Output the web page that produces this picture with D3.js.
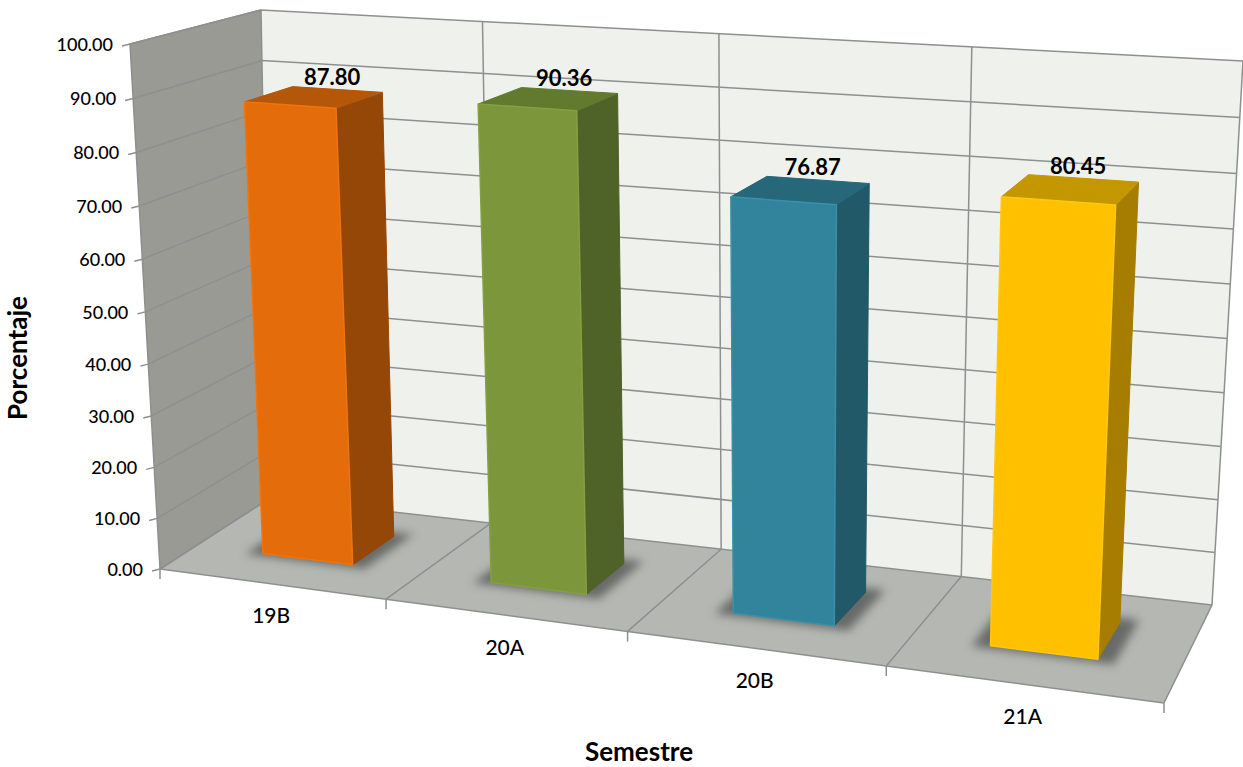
<!DOCTYPE html>
<html lang="en">
<head>
<meta charset="UTF-8">
<title>Porcentaje por semestre</title>
<script src="https://d3js.org/d3.v7.min.js"></script>
<style>
  body { margin: 0; background: #fff; }
  text { font-family: Lato, sans-serif; fill: #000; }
  .y-label { font-size: 18px; font-weight: 500; }
  .x-label { font-size: 21px; font-weight: 500; }
  .value-label { font-size: 22px; font-weight: 700; }
  .axis-title { font-size: 26px; font-weight: 700; }
  .grid { fill: none; stroke: #8f8f8f; stroke-width: 1.5px; }
</style>
</head>
<body>
<div id="chart"></div>
<script>
var semesters = ["19B", "20A", "20B", "21A"];
var values = [87.80, 90.36, 76.87, 80.45];
var yTicks = [0, 10, 20, 30, 40, 50, 60, 70, 80, 90, 100];
var frontColors = ["#e46c0a", "#7c963b", "#31849b", "#ffc000"];
var sideColors = ["#944706", "#4f6228", "#215968", "#a67d00"];
var topColors = ["#b55708", "#617a2e", "#266779", "#c49600"];
var edgeColors = ["#ee7410", "#84a041", "#3a90a8", "#ffc710"];

var width = 1243, height = 767;

// corners of the 3d box on screen: front left, front right, back right, back left
var floorQuad = [[160, 569], [1164, 703], [1212, 605], [270, 498]];
var ceilQuad = [[130, 44], [1192, 114], [1243, 61], [261, 10]];

// unit square -> quad
function homography(q) {
    var x0 = q[0][0], y0 = q[0][1], x1 = q[1][0], y1 = q[1][1],
        x2 = q[2][0], y2 = q[2][1], x3 = q[3][0], y3 = q[3][1];
    var dx1 = x1 - x2, dx2 = x3 - x2, sx = x0 - x1 + x2 - x3,
        dy1 = y1 - y2, dy2 = y3 - y2, sy = y0 - y1 + y2 - y3;
    var den = dx1 * dy2 - dx2 * dy1;
    var g = (sx * dy2 - dx2 * sy) / den, h = (dx1 * sy - sx * dy1) / den;
    var a = x1 - x0 + g * x1, b = x3 - x0 + h * x3,
        d = y1 - y0 + g * y1, e = y3 - y0 + h * y3;
    return function(u, v) {
        var w = g * u + h * v + 1;
        return [(a * u + b * v + x0) / w, (d * u + e * v + y0) / w];
    };
}

var floorAt = homography(floorQuad), ceilAt = homography(ceilQuad);

var x = d3.scaleBand().domain(semesters).range([0, 1]).paddingInner(0.6).paddingOuter(0.3);
var z = d3.scaleLinear().domain([0, 1]).range([0.32, 0.705]);
var y = d3.scaleLinear().domain([0, 100]).range([0, 1]);

// the reference foreshortens less across than its corners suggest
function warp(u, s) { return u * (1 + s) / (1 + s * u); }

// u across, val on the y axis, v into the depth
function project(u, val, v) {
    var t = y(val), k = 0.04;
    t = t * (1 - k) / (1 - k * t);
    var a = floorAt(warp(u, 0.08 + 0.04 * v), v), b = ceilAt(warp(u, 0.155), v);
    return [a[0] + (b[0] - a[0]) * t, a[1] + (b[1] - a[1]) * t];
}

var line = d3.line();
function poly(points) { return line(points) + "Z"; }

var svg = d3.select("#chart").append("svg")
    .attr("width", width).attr("height", height);

var blur = svg.append("defs").append("filter").attr("id", "blur")
    .attr("x", "-30%").attr("y", "-30%").attr("width", "160%").attr("height", "160%");
blur.append("feGaussianBlur").attr("stdDeviation", 5);

// walls and floor
svg.append("path").attr("fill", "#989a93")
    .attr("d", poly([project(0, 0, 0), project(0, 100, 0), project(0, 100, 1), project(0, 0, 1)]));
svg.append("path").attr("fill", "#eff2ec")
    .attr("d", poly([project(0, 0, 1), project(0, 100, 1), project(1, 100, 1), project(1, 0, 1)]));
svg.append("path").attr("fill", "#b5b8b2")
    .attr("d", poly([project(0, 0, 0), project(1, 0, 0), project(1, 0, 1), project(0, 0, 1)]));

// grid lines
yTicks.forEach(function(t) {
    var p = project(0, t, 0);
    svg.append("path").attr("class", "grid")
        .attr("d", line([[p[0] - 8, p[1] + 2], p, project(0, t, 1), project(1, t, 1)]));
});
d3.range(0, 5).forEach(function(i) {
    var u = i / 4;
    var foot = project(u, 0, 0);
    svg.append("path").attr("class", "grid")
        .attr("d", line([[foot[0], foot[1] + 10], foot, project(u, 0, 1), project(u, 100, 1)]));
});
svg.append("path").attr("class", "grid").attr("d", line(d3.range(0, 1.01, 0.25).map(function(u) { return project(u, 0, 0); })));
svg.append("path").attr("class", "grid").attr("d", line([project(0, 0, 0), project(0, 100, 0), project(0, 100, 1)]));

// y tick labels
svg.selectAll(".y-label").data(yTicks).enter().append("text")
    .attr("class", "y-label")
    .attr("text-anchor", "end")
    .attr("dominant-baseline", "central")
    .attr("x", function(d) { return project(0, d, 0)[0] - 17; })
    .attr("y", function(d) { return project(0, d, 0)[1]; })
    .text(function(d) { return d.toFixed(2); });

// bars
semesters.forEach(function(s, i) {
    var x0 = x(s), x1 = x(s) + x.bandwidth(), z0 = z(0), z1 = z(1), val = values[i];
    var grow = 0.016;

    svg.append("path").attr("fill", "#5f625e").attr("opacity", 0.9).attr("filter", "url(#blur)")
        .attr("d", poly([project(x0 - grow, 0, z0 - 0.03), project(x1 + grow, 0, z0 - 0.03),
            project(x1 + grow, 0, z1 + 0.05), project(x0 - grow, 0, z1 + 0.05)]));

    svg.append("path").attr("fill", sideColors[i])
        .attr("stroke", sideColors[i]).attr("stroke-linejoin", "round")
        .attr("d", poly([project(x1, 0, z0), project(x1, val, z0), project(x1, val, z1), project(x1, 0, z1)]));
    svg.append("path").attr("fill", topColors[i])
        .attr("stroke", topColors[i]).attr("stroke-linejoin", "round")
        .attr("d", poly([project(x0, val, z0), project(x1, val, z0), project(x1, val, z1), project(x0, val, z1)]));
    svg.append("path").attr("fill", frontColors[i])
        .attr("stroke", edgeColors[i]).attr("stroke-width", 1.5).attr("stroke-linejoin", "round")
        .attr("d", poly([project(x0, 0, z0), project(x1, 0, z0), project(x1, val, z0), project(x0, val, z0)]));

    var topMid = project(x0 + x.bandwidth() / 2, val, z1);
    svg.append("text").attr("class", "value-label")
        .attr("text-anchor", "middle").attr("dominant-baseline", "central")
        .attr("x", topMid[0] - 5).attr("y", topMid[1] - 13)
        .text(val.toFixed(2));

    var foot = project(x0 + x.bandwidth() / 2, 0, 0);
    svg.append("text").attr("class", "x-label")
        .attr("text-anchor", "middle").attr("dominant-baseline", "central")
        .attr("x", foot[0]).attr("y", foot[1] + 31)
        .text(s);
});

svg.append("text").attr("class", "axis-title")
    .attr("text-anchor", "middle").attr("x", 639).attr("y", 761).text("Semestre");
svg.append("text").attr("class", "axis-title")
    .attr("text-anchor", "middle").attr("transform", "translate(27,358) rotate(-90)").text("Porcentaje");
</script>
</body>
</html>
